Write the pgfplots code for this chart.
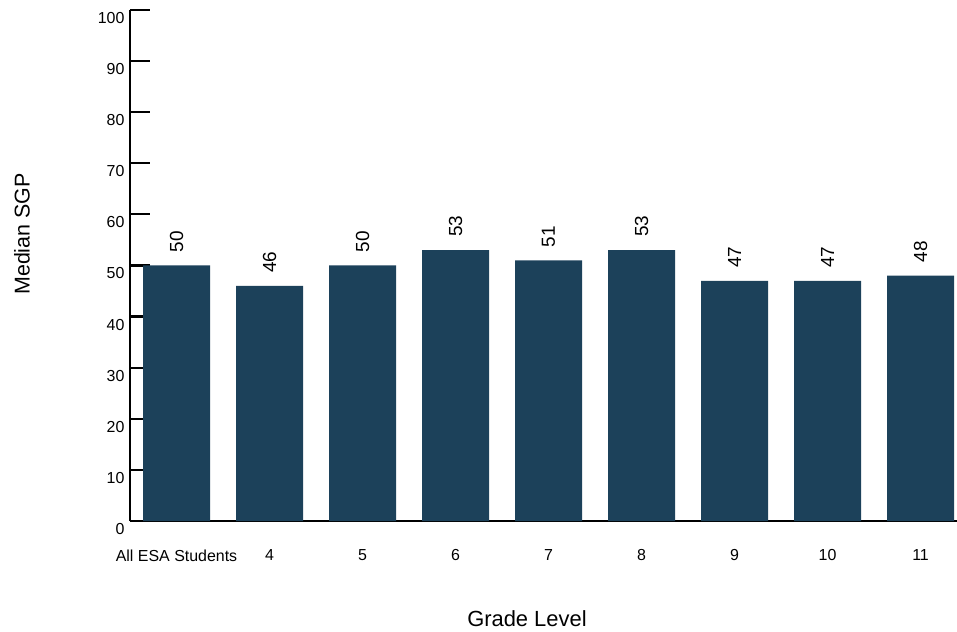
\documentclass[border=0pt]{standalone}
\usepackage{pgfplots}
\pgfplotsset{compat=1.18}
\usepackage{fontspec}
\setmainfont{Liberation Sans}
\definecolor{barcol}{HTML}{1C415A}
\begin{document}
\begin{tikzpicture}
\useasboundingbox (-130bp,-111bp) rectangle (827bp,521bp);
\begin{axis}[
  scale only axis,
  width=827bp, height=511bp,
  anchor=south west, at={(0,0)},
  xmin=-0.5, xmax=8.392,
  ymin=0, ymax=100,
  axis x line*=bottom,
  axis y line*=left,
  axis line style={black, line width=2.2bp},
  /pgf/number format/assume math mode=true,
  ytick={0,10,...,100},
  ytick align=inside,
  ytick style={black, line width=2.2bp},
  major tick length=20bp,
  yticklabel style={font=\fontsize{16}{16}\selectfont, yshift=-8bp, xshift=-2bp},
  xtick={0,...,8},
  xticklabels={All ESA Students,4,5,6,7,8,9,10,11},
  x tick style={draw=none},
  xticklabel style={font=\fontsize{16}{16}\selectfont, yshift=-5bp},
  extra x ticks={0.5,1.5,2.5,3.5,4.5,5.5,6.5,7.5},
  extra x tick labels={},
  extra x tick style={tick align=inside, major tick length=12bp, tick style={draw=black, line width=2.2bp}},
  ylabel={Median SGP},
  ylabel style={at={(axis description cs:-0.1306,0.5616)}, anchor=center, font=\fontsize{21.5}{21.5}\selectfont},
  xlabel={Grade Level},
  xlabel style={at={(axis description cs:0.48,0)}, anchor=center, yshift=-98bp, font=\fontsize{22}{22}\selectfont},
  ybar, bar width=67bp,
  nodes near coords,
  every node near coord/.append style={rotate=90, anchor=west, inner xsep=13bp, font=\fontsize{19}{19}\selectfont, black},
  clip=false,
]
\addplot[fill=barcol, draw=none] coordinates {
(0,50) (1,46) (2,50) (3,53) (4,51) (5,53) (6,47) (7,47) (8,48)
};
\end{axis}
\end{tikzpicture}
\end{document}
